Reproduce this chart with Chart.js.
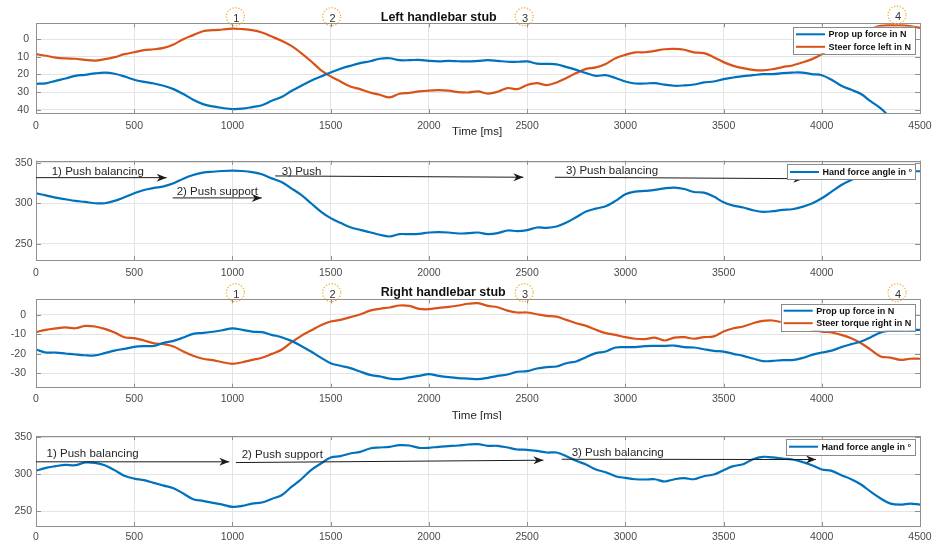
<!DOCTYPE html>
<html>
<head>
<meta charset="utf-8">
<script src="https://cdn.jsdelivr.net/npm/chart.js@4.4.1/dist/chart.umd.min.js"></script>
<style>
  html, body { margin: 0; padding: 0; background: #fff; }
  #wrap { position: relative; width: 933px; height: 543px; overflow: hidden; background: #fff; }
  #wrap canvas { position: absolute; left: 0; }
</style>
</head>
<body>
<div id="wrap">
  <canvas id="pLeftForce" width="933" height="140" style="top:0px"></canvas>
  <canvas id="pLeftAngle" width="933" height="140" style="top:140px"></canvas>
  <canvas id="pRightForce" width="933" height="140" style="top:280px"></canvas>
  <canvas id="pRightAngle" width="933" height="123" style="top:420px"></canvas>
</div>
<script>
// ---- sample times (ms) ----
const timeMs = [
  0, 50, 100, 150, 200, 250, 300, 350, 400, 450,
  500, 550, 600, 650, 700, 750, 800, 850, 900, 950,
  1000, 1050, 1100, 1150, 1200, 1250, 1300, 1350, 1400, 1450,
  1500, 1550, 1600, 1650, 1700, 1750, 1800, 1850, 1900, 1950,
  2000, 2050, 2100, 2150, 2200, 2250, 2300, 2350, 2400, 2450,
  2500, 2550, 2600, 2650, 2700, 2750, 2800, 2850, 2900, 2950,
  3000, 3050, 3100, 3150, 3200, 3250, 3300, 3350, 3400, 3450,
  3500, 3550, 3600, 3650, 3700, 3750, 3800, 3850, 3900, 3950,
  4000, 4050, 4100, 4150, 4200, 4250, 4300, 4350, 4400, 4450, 4500
];

// ---- left handlebar stub ----
const leftPropUpForce = [
  25.3, 25, 23.6, 22.3, 20.8, 20.2, 19.4, 19, 19.6, 21.1,
  23, 24.2, 25.1, 26.4, 28.3, 31.1, 34.3, 36.8, 38.1, 39,
  39.6, 39.4, 38.5, 37.4, 34.9, 32.8, 29.4, 26.4, 23.6, 21.2,
  18.9, 16.8, 15.1, 13.6, 12.5, 11.1, 10.8, 11.9, 11.9, 11.7,
  12.3, 12.6, 12.3, 12.5, 12.6, 12.3, 11.9, 12.3, 12.8, 12.8,
  12.6, 13.8, 14, 14.3, 15.8, 17.4, 19.2, 20.8, 20.4, 22,
  24, 25.1, 25.1, 24.9, 25.8, 26.4, 26.2, 25.7, 24.5, 24,
  22.6, 21.7, 20.9, 20.4, 19.8, 19.8, 19.2, 18.9, 18.9, 19.8,
  20.4, 23, 26.4, 28.7, 31.1, 35.3, 39.2, 44.5, null, null, null
];
const leftSteerForce = [
  8.5, 9.4, 10.4, 10.9, 11.1, 11.7, 12.1, 11.3, 10.2, 8.5,
  7.4, 6.2, 5.7, 4.9, 3, 0, -2.3, -4.5, -5.1, -5.5,
  -6, -5.7, -5.1, -3.8, -1.5, 0.9, 3.8, 7.9, 12.5, 17.5,
  21.1, 24, 26.8, 28.3, 30.2, 31.5, 33, 30.9, 30.4, 29.6,
  29.1, 28.9, 29.2, 30, 30.2, 29.6, 30.8, 29.8, 27.7, 28.3,
  26, 24.9, 26, 24.5, 22, 19.2, 16.8, 16, 14, 10.8,
  8.9, 7.5, 7.4, 6.6, 5.7, 5.5, 6, 7.5, 7.9, 10.2,
  13, 15.1, 16.4, 17.4, 17.7, 17, 15.8, 14.9, 13.2, 11.3,
  8.5, 5, 1.5, -1.5, -4, -6, -7.5, -7.8, -7.8, -7.4, -6.4
];
const leftHandAngle = [
  312.3, 309.8, 307, 304.9, 302.9, 301.6, 300, 300, 302.9, 307.4,
  312.3, 316.4, 318.9, 320.9, 324.6, 330.3, 334.8, 337.7, 338.9, 339.8,
  340.2, 339.8, 338.5, 335.7, 330.7, 326.2, 318.4, 310.2, 300, 289.8,
  281.6, 275.8, 270.5, 267.2, 264.3, 261.1, 259, 261.9, 261.9, 262.3,
  263.9, 264.3, 263.9, 262.7, 263.1, 263.9, 261.9, 263.1, 266.4, 265.6,
  266.8, 270.1, 269.7, 271.3, 276.2, 282.8, 289.8, 293.4, 296.3, 302.9,
  311.1, 314.3, 315.2, 316.4, 318.4, 319.3, 317.6, 313.9, 313.1, 308.2,
  301.2, 297.1, 294.7, 291.4, 289.3, 290.2, 291.8, 292.6, 295.5, 299.6,
  306.1, 314.3, 322.5, 328.7, 333.6, 337.5, 339, 339.5, 339.5, 339.5, 339.5
];

// ---- right handlebar stub ----
const rightPropUpForce = [
  -17.8, -19.4, -19.4, -19.9, -20.4, -20.8, -20.9, -19.7, -18.4, -17.5,
  -16.5, -16.1, -16, -14.4, -13.4, -11.7, -9.8, -9.3, -8.7, -7.9,
  -7, -7.7, -8.6, -8.9, -10.3, -11.5, -13.4, -16, -18.9, -22,
  -24.9, -26.2, -27.4, -29.2, -30.9, -31.7, -32.8, -33.1, -32.2, -31.4,
  -30.5, -31.4, -32.1, -32.6, -32.8, -33.1, -32.4, -31.4, -30.7, -29.3,
  -29, -27.6, -26.9, -26.6, -24.9, -24, -21.8, -19.7, -18.9, -16.8,
  -16.6, -16.6, -16.1, -16, -16, -15.8, -16.6, -16.8, -17.7, -18.5,
  -18.9, -20.1, -21.1, -22.5, -23.8, -23.7, -23.3, -23.3, -22.3, -20.6,
  -19.4, -18.4, -16.6, -15.1, -13.7, -11.5, -9.1, -8.1, -7.7, -7.7, -7.7
];
const rightSteerTorque = [
  -8.9, -7.7, -7, -6.5, -6.9, -5.7, -6, -7.2, -9.1, -11.5,
  -12, -13.2, -14.6, -15.1, -16.3, -18.9, -21.1, -22.6, -23.3, -24.4,
  -25.2, -24.4, -23.2, -22.1, -20.1, -18, -14.2, -10.8, -8.1, -5.3,
  -3.4, -2.6, -1.2, 0.2, 2.2, 3.1, 3.8, 4.8, 4.6, 3.1,
  2.9, 3.6, 4.1, 4.8, 5.7, 6, 4.6, 3.9, 2.2, 1.2,
  1.2, 0.3, -0.5, -0.9, -2.6, -4.3, -5.7, -7.7, -9.4, -10.3,
  -11.5, -12.3, -12.5, -11.7, -13.2, -11.7, -11.5, -12.3, -11.5, -11.1,
  -8.6, -6.9, -6, -4.3, -3.1, -2.9, -3.9, -5.1, -6, -7.5,
  -8.6, -9.1, -10.3, -12, -14.6, -18, -21.4, -22, -23.2, -22.6, -22.6
];
const rightHandAngle = [
  304.8, 308.8, 311.1, 312.9, 312.4, 316.1, 315.6, 312.4, 305.7, 298,
  294.3, 292.1, 288.5, 284.8, 281.2, 274, 266.3, 264, 261.3, 259,
  255.9, 257.2, 260.4, 261.8, 266.7, 271.7, 283, 293.4, 305.7, 314.7,
  322.9, 324.7, 328.3, 330.5, 335.1, 336.4, 337.3, 339.6, 339.1, 336,
  336, 337.3, 338.2, 339.1, 340.5, 341, 338.7, 338.7, 336.4, 333.7,
  333.3, 331.9, 329.6, 329.6, 324.7, 318.3, 313.3, 306.6, 302.9, 297.5,
  295.2, 293.4, 293, 293.4, 290.3, 293.4, 294.8, 293.4, 297.5, 299.8,
  305.7, 311.1, 313.8, 320.6, 323.8, 322.9, 321.5, 320.1, 317, 312.4,
  306.6, 304.8, 298.9, 293.4, 286.2, 276.2, 267.2, 260.4, 259, 260.4, 259
];

// ---- tick values ----
const timeTicks = [0, 500, 1000, 1500, 2000, 2500, 3000, 3500, 4000, 4500];
const leftForceTicks = [0, 10, 20, 30, 40];
const rightForceTicks = [-30, -20, -10, 0];
const angleTicks = [250, 300, 350];

// ---- phase markers (ms) ----
const markerTimes = [1015, 1505, 2485, 4383];
const markerLabels = ['1', '2', '3', '4'];

const BLUE = '#0072BD';
const ORANGE = '#D95319';
const FONT = '"Liberation Sans", Arial, Helvetica, sans-serif';
const TEXT = '#262626';
const TICKTEXT = '#4a4a4a';
const GRID = '#e4e4e4';
const BOX = '#8f8f8f';

function drawArrow(ctx, x1, y1, x2, y2) {
  ctx.strokeStyle = '#1a1a1a';
  ctx.fillStyle = '#1a1a1a';
  ctx.lineWidth = 1;
  ctx.beginPath();
  ctx.moveTo(x1, y1);
  ctx.lineTo(x2, y2);
  ctx.stroke();
  const ang = Math.atan2(y2 - y1, x2 - x1);
  const L = 10, W = 4, N = 7;
  const c = Math.cos(ang), s = Math.sin(ang);
  const pt = (a, b) => [x2 - a * c + b * s, y2 - a * s - b * c];
  const p1 = pt(L, W), p2 = pt(N, 0), p3 = pt(L, -W);
  ctx.beginPath();
  ctx.moveTo(x2, y2);
  ctx.lineTo(p1[0], p1[1]);
  ctx.lineTo(p2[0], p2[1]);
  ctx.lineTo(p3[0], p3[1]);
  ctx.closePath();
  ctx.fill();
}

const decoPlugin = {
  id: 'deco',
  afterDraw(chart, args, o) {
    const { ctx, chartArea: a } = chart;
    const xs = chart.scales.x, ys = chart.scales.y;
    ctx.save();

    // inward tick marks on all four sides
    ctx.strokeStyle = BOX;
    ctx.lineWidth = 1;
    ctx.beginPath();
    timeTicks.forEach(v => {
      const px = Math.round(xs.getPixelForValue(v)) + 0.5;
      ctx.moveTo(px, a.bottom); ctx.lineTo(px, a.bottom - 4);
      ctx.moveTo(px, a.top); ctx.lineTo(px, a.top + 4);
    });
    o.yTicks.forEach(v => {
      const py = Math.round(ys.getPixelForValue(v)) + 0.5;
      ctx.moveTo(a.left, py); ctx.lineTo(a.left + 5, py);
      ctx.moveTo(a.right, py); ctx.lineTo(a.right - 5, py);
    });
    ctx.stroke();

    // axes box
    ctx.strokeStyle = BOX;
    ctx.strokeRect(Math.round(a.left) + 0.5, Math.round(a.top) + 0.5,
                   Math.round(a.right - a.left), Math.round(a.bottom - a.top));

    // phase arrows with captions
    (o.arrows || []).forEach(ar => {
      drawArrow(ctx, xs.getPixelForValue(ar.x1), ys.getPixelForValue(ar.y1),
                     xs.getPixelForValue(ar.x2), ys.getPixelForValue(ar.y2));
      ctx.fillStyle = TEXT;
      ctx.font = '11.5px ' + FONT;
      ctx.textAlign = 'left';
      ctx.textBaseline = 'middle';
      ctx.fillText(ar.text, xs.getPixelForValue(ar.tx), ys.getPixelForValue(ar.ty));
    });

    // numbered phase markers
    if (o.markers) {
      markerTimes.forEach((t, i) => {
        const cx = xs.getPixelForValue(t);
        const cy = a.top + o.markers.dy[i];
        ctx.strokeStyle = '#f2b640';
        ctx.lineWidth = 1.3;
        ctx.setLineDash([1.4, 1.6]);
        ctx.beginPath();
        ctx.arc(cx, cy, 9, 0, Math.PI * 2);
        ctx.stroke();
        ctx.setLineDash([]);
        ctx.fillStyle = '#333';
        ctx.font = '11px ' + FONT;
        ctx.textAlign = 'center';
        ctx.textBaseline = 'middle';
        ctx.fillText(markerLabels[i], cx + 1, cy + 2);
      });
    }

    // panel title
    if (o.title) {
      ctx.fillStyle = '#111';
      ctx.font = 'bold 12.5px ' + FONT;
      ctx.textAlign = 'left';
      ctx.textBaseline = 'middle';
      ctx.fillText(o.title.text, xs.getPixelForValue(o.title.x), a.top + o.title.dy);
    }

    // time axis label
    if (o.timeLabel) {
      ctx.fillStyle = TEXT;
      ctx.font = '11.5px ' + FONT;
      ctx.textAlign = 'left';
      ctx.textBaseline = 'middle';
      ctx.fillText('Time [ms]', xs.getPixelForValue(o.timeLabel.x), a.bottom + o.timeLabel.dy);
    }

    // legend box
    if (o.legend) {
      const lg = o.legend;
      const bx = a.right - 5 - lg.width, by = a.top + lg.dy;
      ctx.fillStyle = '#fff';
      ctx.fillRect(bx, by, lg.width, lg.height);
      ctx.strokeStyle = '#8a8a8a';
      ctx.lineWidth = 1;
      ctx.strokeRect(Math.round(bx) + 0.5, Math.round(by) + 0.5, Math.round(lg.width), Math.round(lg.height));
      chart.data.datasets.forEach((ds, i) => {
        const ry = by + lg.firstRow + i * 12.5;
        ctx.strokeStyle = ds.borderColor;
        ctx.lineWidth = 2;
        ctx.beginPath();
        ctx.moveTo(bx + 3, ry);
        ctx.lineTo(bx + 32, ry);
        ctx.stroke();
        ctx.fillStyle = '#111';
        ctx.font = 'bold 9px ' + FONT;
        ctx.textAlign = 'left';
        ctx.textBaseline = 'middle';
        ctx.fillText(ds.label, bx + 35.5, ry + 0.5);
      });
    }
    ctx.restore();
  }
};

function makePanel(id, p) {
  return new Chart(document.getElementById(id), {
    type: 'line',
    data: {
      datasets: p.series.map(s => ({
        label: s.label,
        data: timeMs.map((t, i) => ({ x: t, y: s.values[i] })),
        borderColor: s.color,
        backgroundColor: s.color,
        borderWidth: 2.2,
        pointRadius: 0,
        tension: 0.35,
        fill: false,
        spanGaps: false
      }))
    },
    options: {
      responsive: false,
      animation: false,
      events: [],
      layout: { padding: { top: p.top, right: 13, left: 0, bottom: 0 } },
      plugins: {
        legend: { display: false },
        tooltip: { enabled: false },
        title: { display: false },
        deco: p.deco
      },
      scales: {
        x: {
          type: 'linear',
          min: 0,
          max: 4500,
          afterBuildTicks: s => { s.ticks = timeTicks.map(v => ({ value: v })); },
          afterFit: s => { s.height = p.xAxisHeight; s.paddingLeft = 0; s.paddingRight = 0; },
          grid: { color: GRID, drawTicks: false },
          border: { display: false },
          ticks: {
            padding: p.xPad,
            color: TICKTEXT,
            font: { family: FONT, size: 10.5 },
            maxRotation: 0,
            autoSkip: false,
            callback: v => (p.hideLast && v === 4500) ? '' : String(v)
          }
        },
        y: {
          min: p.yMin,
          max: p.yMax,
          reverse: !!p.reverse,
          afterBuildTicks: s => { s.ticks = p.yTicks.map(v => ({ value: v })); },
          afterFit: s => { s.width = 36; s.paddingTop = 0; s.paddingBottom = 0; },
          grid: { color: GRID, drawTicks: false },
          border: { display: false },
          ticks: {
            padding: p.yPad,
            color: TICKTEXT,
            font: { family: FONT, size: 10.5 },
            autoSkip: false,
            callback: v => String(v)
          }
        }
      }
    },
    plugins: [decoPlugin]
  });
}

// Left handlebar stub: forces (reversed axis)
makePanel('pLeftForce', {
  top: 23.3, xAxisHeight: 26.7, xPad: 6.4, yPad: 7,
  yMin: -9, yMax: 42, reverse: true, yTicks: leftForceTicks,
  series: [
    { label: 'Prop up force in N', values: leftPropUpForce, color: BLUE },
    { label: 'Steer force left in N', values: leftSteerForce, color: ORANGE }
  ],
  deco: {
    yTicks: leftForceTicks,
    title: { text: 'Left handlebar stub', x: 1755, dy: -6 },
    markers: { dy: [-6.6, -6.6, -6.6, -8.3] },
    timeLabel: { x: 2118, dy: 18.3 },
    legend: { width: 122, height: 26.6, dy: 3.4, firstRow: 7.6 }
  }
});

// Left handlebar stub: hand force angle
makePanel('pLeftAngle', {
  top: 20.7, xAxisHeight: 20, xPad: 6.7, yPad: 3.5, hideLast: true,
  yMin: 230, yMax: 352.5, yTicks: angleTicks,
  series: [
    { label: 'Hand force angle in \u00b0', values: leftHandAngle, color: BLUE }
  ],
  deco: {
    yTicks: angleTicks,
    arrows: [
      { x1: 0, y1: 331.6, x2: 665, y2: 331.6, tx: 80, ty: 338.5, text: '1) Push balancing' },
      { x1: 696, y1: 306.6, x2: 1149, y2: 306.6, tx: 716, ty: 313.6, text: '2) Push support' },
      { x1: 1217, y1: 333.7, x2: 2481, y2: 332.1, tx: 1251, ty: 338.5, text: '3) Push' },
      { x1: 2642, y1: 332.1, x2: 3906, y2: 330.3, tx: 2698, ty: 339.8, text: '3) Push balancing' }
    ],
    legend: { width: 128, height: 15, dy: 3.3, firstRow: 8 }
  }
});

// Right handlebar stub: forces
makePanel('pRightForce', {
  top: 19.3, xAxisHeight: 32.3, xPad: 5, yPad: 10, hideLast: true,
  yMin: -37.5, yMax: 8, yTicks: rightForceTicks,
  series: [
    { label: 'Prop up force in N', values: rightPropUpForce, color: BLUE },
    { label: 'Steer torque right in N', values: rightSteerTorque, color: ORANGE }
  ],
  deco: {
    yTicks: rightForceTicks,
    title: { text: 'Right handlebar stub', x: 1755, dy: -6.6 },
    markers: { dy: [-6.6, -6.6, -6.6, -6.6] },
    timeLabel: { x: 2116, dy: 28.3 },
    legend: { width: 134.3, height: 26.7, dy: 4.7, firstRow: 6.7 }
  }
});

// Right handlebar stub: hand force angle
makePanel('pRightAngle', {
  top: 16, xAxisHeight: 17, xPad: 4.7, yPad: 4,
  yMin: 230, yMax: 352, yTicks: angleTicks,
  series: [
    { label: 'Hand force angle in \u00b0', values: rightHandAngle, color: BLUE }
  ],
  deco: {
    yTicks: angleTicks,
    arrows: [
      { x1: 0, y1: 317, x2: 984, y2: 317, tx: 54, ty: 327.3, text: '1) Push balancing' },
      { x1: 1018, y1: 316, x2: 2583, y2: 319.2, tx: 1047, ty: 326, text: '2) Push support' },
      { x1: 2676, y1: 320.5, x2: 3971, y2: 320.1, tx: 2727, ty: 329.6, text: '3) Push balancing' }
    ],
    legend: { width: 129, height: 16, dy: 2.7, firstRow: 8 }
  }
});
</script>
</body>
</html>
